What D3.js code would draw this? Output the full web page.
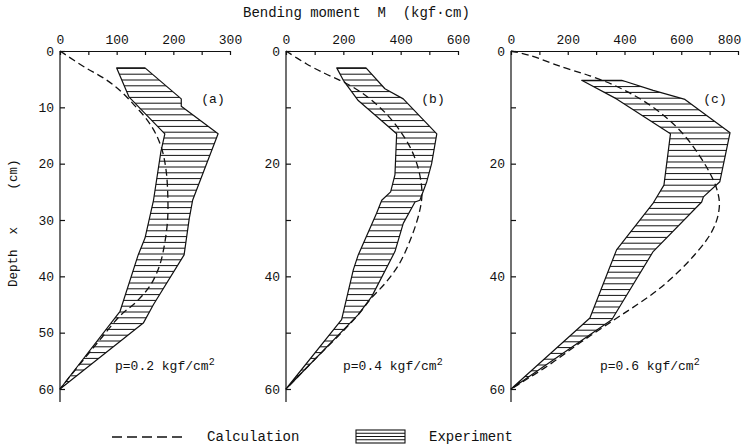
<!DOCTYPE html>
<html>
<head>
<meta charset="utf-8">
<script src="https://cdn.jsdelivr.net/npm/d3@7"></script>
<style>
  body { margin: 0; background: #fff; }
  text { font-family: "Liberation Mono", "DejaVu Sans Mono", monospace; fill: #111; white-space: pre; }
</style>
</head>
<body>
<svg id="chart" width="747" height="444"></svg>
<script>
// Bending moment M (kgf·cm) against depth x (cm); points are [M, x]

// (a) p = 0.2 kgf/cm²
const calcA = [[0,0],[44,2.9],[80,5],[108,7.2],[131,9.6],[152,12],[168,14.5],[180,17.5],[187,21],[190,25],[190,29.8],[185,34],[176,38],[160,41.5],[135,44.5],[106,47],[71,51.2],[35,55.6],[0,60]];
const expLeftA = [[100,3],[122,8.2],[185,14.7],[178,17.9],[165,26.5],[150,33.2],[138,36.2],[106,46.2],[0,60]];
const expRightA = [[150,3],[214,8.5],[214,9.8],[279,14.7],[234,26.5],[228,29.8],[219,36.2],[165,45],[147,48.3],[0,60]];

// (b) p = 0.4 kgf/cm²
const calcB = [[0,0],[72,2.3],[136,4],[188,5.2],[240,6.6],[300,8.8],[358,11.6],[405,14.7],[438,17.6],[460,20.6],[472,23.6],[474,25.8],[468,28],[455,30.5],[430,34],[395,37.8],[350,41],[299,43.8],[252,46.8],[188,50.3],[107,54.4],[0,60]];
const expLeftB = [[177,3],[200,5.2],[252,8.8],[386,14.7],[380,22],[365,25],[334,26.5],[316,28.8],[252,36.2],[235,38.8],[194,47.7],[0,60]];
const expRightB = [[279,3],[345,6.7],[409,8.5],[526,14.7],[508,20],[491,23.2],[467,26.5],[450,26.8],[409,30.6],[380,35.6],[299,43.6],[252,46.8],[0,60]];

// (c) p = 0.6 kgf/cm²
const calcC = [[0,0],[67,0.8],[184,2.9],[278,4.4],[360,6],[431,7.8],[501,10],[565,12.6],[618,15.4],[662,18.4],[698,21.4],[722,24],[734,26.6],[732,28.6],[718,31],[690,33.5],[645,36.3],[590,39.2],[520,42.3],[445,45],[361,47.8],[243,51.8],[126,56],[0,60]];
const expLeftC = [[249,5.2],[372,8.5],[562,14.7],[539,23.8],[507,26.5],[501,27],[372,35.3],[278,47.4],[0,60]];
const expRightC = [[390,5.2],[501,7],[613,8.6],[772,14.5],[736,23.2],[678,25.9],[672,26.8],[501,35.6],[355,47.7],[0,60]];

// Axis ticks
const depthDomain = [0, 60];
const depthTicks = [0, 10, 20, 30, 40, 50, 60];
const depthLabelsA = [0, 10, 20, 30, 40, 50, 60];
const depthLabelsBC = [0, 20, 40, 60];
const momentTicksA = [0, 50, 100, 150, 200, 250, 300];
const momentLabelsA = [0, 100, 200, 300];
const momentTicksB = [0, 100, 200, 300, 400, 500, 600];
const momentLabelsB = [0, 200, 400, 600];
const momentTicksC = [0, 100, 200, 300, 400, 500, 600, 700, 800];
const momentLabelsC = [0, 200, 400, 600, 800];

const panelTags = ["(a)", "(b)", "(c)"];
const pressureLabels = ["0.2", "0.4", "0.6"];

const svg = d3.select("#chart");
svg.append("rect").attr("width", 747).attr("height", 444).attr("fill", "#fff");

const y = d3.scaleLinear().domain(depthDomain).range([51, 389]);

const panels = [
  { calc: calcA, left: expLeftA, right: expRightA, max: 300, range: [60, 230],
    ticks: momentTicksA, labels: momentLabelsA, dLabels: depthLabelsA, tagX: 213, pX: 115 },
  { calc: calcB, left: expLeftB, right: expRightB, max: 600, range: [286, 458],
    ticks: momentTicksB, labels: momentLabelsB, dLabels: depthLabelsBC, tagX: 433, pX: 343 },
  { calc: calcC, left: expLeftC, right: expRightC, max: 800, range: [511, 738],
    ticks: momentTicksC, labels: momentLabelsC, dLabels: depthLabelsBC, tagX: 715, pX: 600 }
];

panels.forEach((p, i) => {
  const x = d3.scaleLinear().domain([0, p.max]).range(p.range);
  const g = svg.append("g");

  // Experimental band: left edge downwards, right edge back up
  const outline = p.left.concat(p.right.slice().reverse());
  const poly = d3.line().x(d => x(d[0])).y(d => y(d[1]));
  const clipId = "band" + i;
  svg.append("clipPath").attr("id", clipId)
    .append("path").attr("d", poly(outline) + "Z");

  const top = d3.min(outline, d => d[1]);
  const y0 = y(top), y1 = y(60);
  const rows = d3.range(y0 + 0.5, y1, 5.8);
  g.append("g").attr("clip-path", `url(#${clipId})`)
    .selectAll("line").data(rows).join("line")
    .attr("x1", p.range[0]).attr("x2", p.range[1])
    .attr("y1", d => d).attr("y2", d => d)
    .attr("stroke", "#111").attr("stroke-width", 1);

  g.append("path").attr("d", poly(outline) + "Z")
    .attr("fill", "none").attr("stroke", "#111").attr("stroke-width", 1.2)
    .attr("stroke-linejoin", "round");

  // Calculated curve
  const curve = d3.line().x(d => x(d[0])).y(d => y(d[1])).curve(d3.curveCatmullRom.alpha(0.5));
  g.append("path").attr("d", curve(p.calc))
    .attr("fill", "none").attr("stroke", "#111").attr("stroke-width", 1.3)
    .attr("stroke-dasharray", "7,4");

  // Moment axis along the top, ticks pointing inward
  const ax = d3.axisTop(x).tickValues(p.ticks).tickSizeInner(-4).tickSizeOuter(0).tickPadding(7)
    .tickFormat(v => p.labels.includes(v) ? v : "");
  const axg = g.append("g").attr("transform", `translate(0,${y(0)})`).call(ax);
  axg.select(".domain").attr("stroke", "#111").attr("stroke-width", 1.2);
  axg.selectAll(".tick line").attr("stroke", "#111").attr("stroke-width", 1.2);
  axg.selectAll(".tick text").attr("font-size", 13).attr("fill", "#111")
    .attr("font-family", "Liberation Mono, monospace")
    .attr("dx", v => (v === p.max && v === 800) ? -9 : 0);

  // Depth axis on the left
  const ay = d3.axisLeft(y).tickValues(depthTicks).tickSizeInner(-5).tickSizeOuter(0).tickPadding(6)
    .tickFormat(v => p.dLabels.includes(v) ? v : "");
  const ayg = g.append("g").attr("transform", `translate(${x(0)},0)`).call(ay);
  ayg.select(".domain").remove();
  ayg.append("line").attr("y1", y(0)).attr("y2", y(60) + 13)
    .attr("stroke", "#111").attr("stroke-width", 1.2);
  ayg.selectAll(".tick line").attr("stroke", "#111").attr("stroke-width", 1.2);
  ayg.selectAll(".tick text").attr("font-size", 13).attr("fill", "#111")
    .attr("font-family", "Liberation Mono, monospace");

  g.append("text").attr("x", p.tagX).attr("y", 103).attr("text-anchor", "middle")
    .attr("font-size", 13).text(panelTags[i]);

  const pt = g.append("text").attr("x", p.pX).attr("y", 370).attr("font-size", 13);
  pt.append("tspan").text(`p=${pressureLabels[i]} kgf/cm`);
  pt.append("tspan").attr("dy", -5).attr("font-size", 10).text("2");
});

// Shared titles
svg.append("text").attr("x", 243).attr("y", 17).attr("font-size", 14)
  .text("Bending moment  M  (kgf\u00b7cm)");
svg.append("text").attr("transform", "translate(17,287) rotate(-90)")
  .attr("font-size", 12.5).text("Depth  x     (cm)");

// Legend
const lg = svg.append("g");
lg.append("line").attr("x1", 112).attr("x2", 183).attr("y1", 437).attr("y2", 437)
  .attr("stroke", "#111").attr("stroke-width", 1.3).attr("stroke-dasharray", "10,5");
lg.append("text").attr("x", 207).attr("y", 441).attr("font-size", 14).text("Calculation");
const box = { x: 356, y: 430, w: 49, h: 13 };
lg.append("rect").attr("x", box.x).attr("y", box.y).attr("width", box.w).attr("height", box.h)
  .attr("fill", "#fff").attr("stroke", "#111").attr("stroke-width", 1.1);
lg.selectAll("line.h").data(d3.range(box.y + 3.25, box.y + box.h, 3.25)).join("line")
  .attr("class", "h").attr("x1", box.x).attr("x2", box.x + box.w)
  .attr("y1", d => d).attr("y2", d => d).attr("stroke", "#111").attr("stroke-width", 1);
lg.append("text").attr("x", 429).attr("y", 441).attr("font-size", 14).text("Experiment");
</script>
</body>
</html>
